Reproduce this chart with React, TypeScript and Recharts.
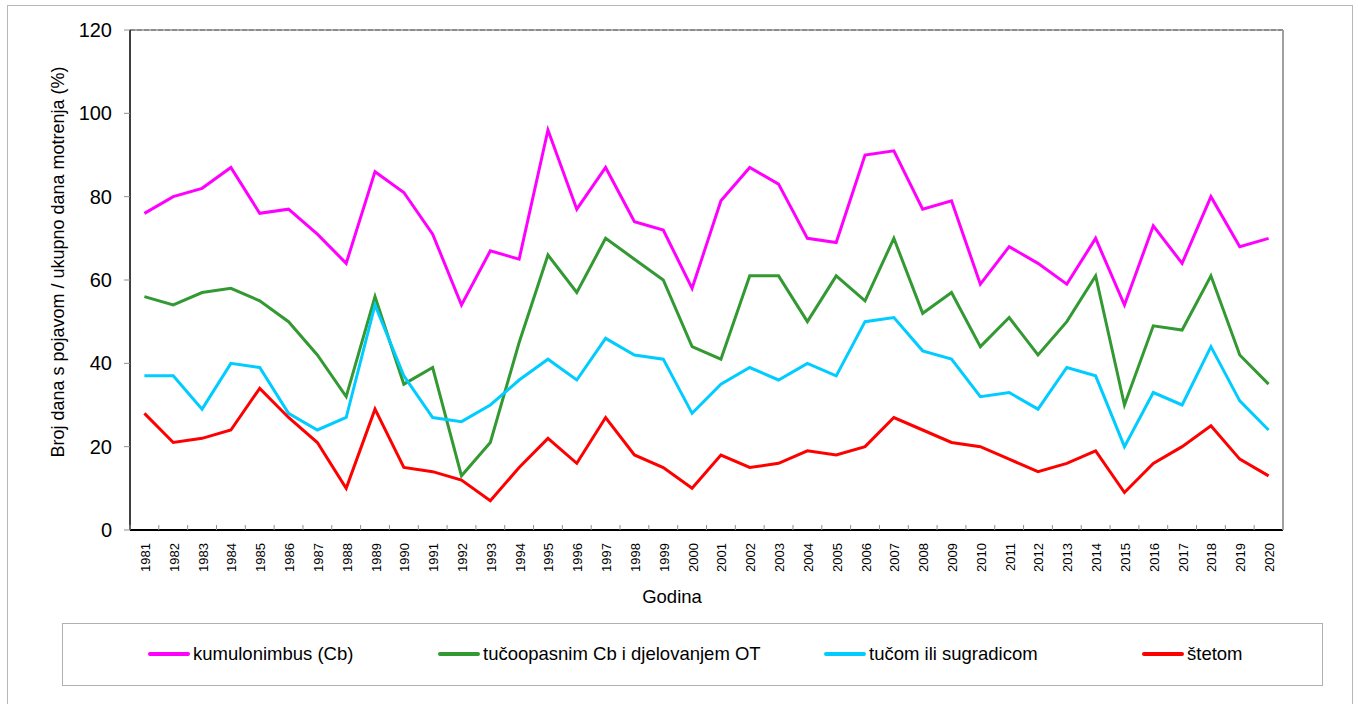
import React from 'react';
import { LineChart, Line, XAxis, YAxis, CartesianGrid, ReferenceLine } from 'recharts';

const years = [
  '1981', '1982', '1983', '1984', '1985', '1986', '1987', '1988', '1989', '1990',
  '1991', '1992', '1993', '1994', '1995', '1996', '1997', '1998', '1999', '2000',
  '2001', '2002', '2003', '2004', '2005', '2006', '2007', '2008', '2009', '2010',
  '2011', '2012', '2013', '2014', '2015', '2016', '2017', '2018', '2019', '2020',
];

const kumulonimbus = [
  76, 80, 82, 87, 76, 77, 71, 64, 86, 81, 71, 54, 67, 65, 96, 77, 87, 74, 72, 58,
  79, 87, 83, 70, 69, 90, 91, 77, 79, 59, 68, 64, 59, 70, 54, 73, 64, 80, 68, 70,
];
const tucoopasnim = [
  56, 54, 57, 58, 55, 50, 42, 32, 56, 35, 39, 13, 21, 45, 66, 57, 70, 65, 60, 44,
  41, 61, 61, 50, 61, 55, 70, 52, 57, 44, 51, 42, 50, 61, 30, 49, 48, 61, 42, 35,
];
const tucom = [
  37, 37, 29, 40, 39, 28, 24, 27, 54, 37, 27, 26, 30, 36, 41, 36, 46, 42, 41, 28,
  35, 39, 36, 40, 37, 50, 51, 43, 41, 32, 33, 29, 39, 37, 20, 33, 30, 44, 31, 24,
];
const stetom = [
  28, 21, 22, 24, 34, 27, 21, 10, 29, 15, 14, 12, 7, 15, 22, 16, 27, 18, 15, 10,
  18, 15, 16, 19, 18, 20, 27, 24, 21, 20, 17, 14, 16, 19, 9, 16, 20, 25, 17, 13,
];

const yTicks = [0, 20, 40, 60, 80, 100, 120];
const gridValues = [20, 40, 60, 80, 100];

const seriesNames = ['kumulonimbus (Cb)', 'tučoopasnim Cb i djelovanjem OT', 'tučom ili sugradicom', 'štetom'];
const seriesColors = ['#ff00ff', '#339933', '#00ccff', '#ff0000'];
const legendX = [148, 438, 824, 1142];

const data = years.map((y, i) => ({
  year: y,
  cb: kumulonimbus[i],
  ot: tucoopasnim[i],
  tuca: tucom[i],
  steta: stetom[i],
}));

const FONT = 'Arial, "Liberation Sans", sans-serif';
const PLOT_LEFT = 130;
const PLOT_RIGHT = 1283;
const BAND = (PLOT_RIGHT - PLOT_LEFT) / years.length;

function YearTick(props: any) {
  const { x, y, payload } = props;
  const bx = x - BAND / 2;
  return (
    <g>
      <line x1={bx} y1={y} x2={bx} y2={y - 5} stroke="#909090" strokeWidth={1} />
      <text
        x={x + 5.5}
        y={y + 13}
        transform={`rotate(-90, ${x + 5.5}, ${y + 13})`}
        textAnchor="end"
        fontSize={13}
        fontFamily={FONT}
        fill="#000"
      >
        {payload.value}
      </text>
    </g>
  );
}

function YTitle() {
  return (
    <text
      x={64}
      y={262}
      transform="rotate(-90, 64, 262)"
      textAnchor="middle"
      fontSize={18}
      fontFamily={FONT}
      fill="#000"
    >
      Broj dana s pojavom / ukupno dana motrenja (%)
    </text>
  );
}

function XTitle() {
  return (
    <text x={672} y={602.5} textAnchor="middle" fontSize={18.5} fontFamily={FONT} fill="#000">
      Godina
    </text>
  );
}

export default function App() {
  const keys = ['cb', 'ot', 'tuca', 'steta'];
  return (
    <div style={{ position: 'absolute', left: 0, top: 0, width: 1358, height: 704, overflow: 'hidden', background: '#fff' }}>
      <div style={{ position: 'absolute', left: 7, top: 5, width: 1344, height: 720, border: '1px solid #b8b8b8' }} />
      <LineChart
        width={1358}
        height={704}
        data={data}
        margin={{ top: 30, right: 0, left: 0, bottom: 0 }}
        style={{ position: 'absolute', left: 0, top: 0 }}
      >
        <CartesianGrid
          vertical={false}
          horizontalValues={gridValues}
          stroke="#000080"
          strokeWidth={1.6}
          strokeDasharray="5 3"
        />
        <XAxis
          dataKey="year"
          height={174}
          interval={0}
          padding={{ left: BAND / 2, right: BAND / 2 }}
          tick={<YearTick />}
          tickLine={false}
          tickSize={0}
          tickMargin={0}
          axisLine={{ stroke: '#000', strokeWidth: 2 }}
          label={<XTitle />}
        />
        <YAxis
          yAxisId="left"
          width={130}
          domain={[0, 120]}
          ticks={yTicks}
          interval={0}
          tickSize={6}
          tickMargin={12}
          tickLine={{ stroke: '#909090' }}
          axisLine={{ stroke: '#000', strokeWidth: 1.5 }}
          tick={{ fontSize: 20, fontFamily: FONT, fill: '#000' }}
          label={<YTitle />}
        />
        <YAxis
          yAxisId="right"
          orientation="right"
          width={75}
          domain={[0, 120]}
          tick={false}
          tickLine={false}
          axisLine={{ stroke: '#a0a0a0', strokeWidth: 2 }}
        />
        <ReferenceLine yAxisId="left" y={120} stroke="#b0b0b0" strokeWidth={2} />
        <ReferenceLine yAxisId="left" y={120} stroke="#808080" strokeWidth={1.5} strokeDasharray="5 2" />
        {keys.map((k, i) => (
          <Line
            key={k}
            yAxisId="left"
            type="linear"
            dataKey={k}
            name={seriesNames[i]}
            stroke={seriesColors[i]}
            strokeWidth={3}
            dot={false}
            activeDot={false}
            isAnimationActive={false}
          />
        ))}
      </LineChart>
      <div
        style={{
          position: 'absolute',
          left: 62,
          top: 623,
          width: 1259,
          height: 61,
          border: '1px solid #b0b0b0',
        }}
      />
      {seriesNames.map((n, i) => (
        <div
          key={n}
          style={{
            position: 'absolute',
            left: legendX[i],
            top: 642,
            height: 24,
            display: 'flex',
            alignItems: 'center',
            fontFamily: FONT,
            fontSize: 18.5,
            color: '#000',
            whiteSpace: 'nowrap',
          }}
        >
          <span style={{ display: 'inline-block', width: 42, height: 3.5, borderRadius: 2, background: seriesColors[i], marginRight: 3 }} />
          {n}
        </div>
      ))}
    </div>
  );
}
